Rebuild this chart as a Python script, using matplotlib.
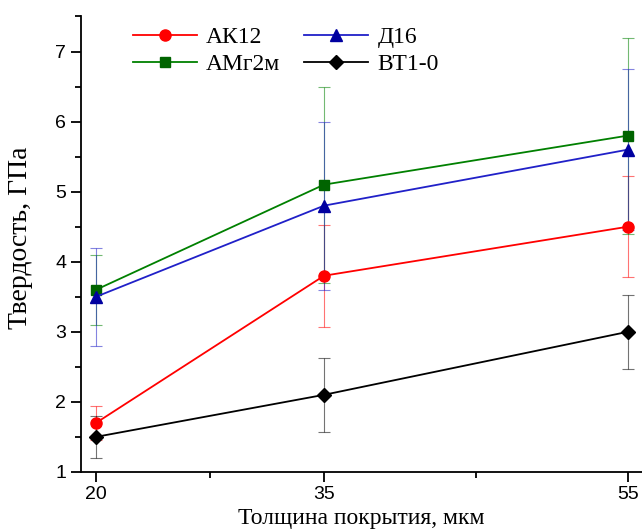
import matplotlib
matplotlib.use("Agg")
import matplotlib.pyplot as plt

# толщина покрытия, мкм
thickness = [20, 35, 55]

# твердость, ГПа и погрешности
ak12 = [1.7, 3.8, 4.5]
ak12_err = [0.24, 0.73, 0.72]
amg2m = [3.6, 5.1, 5.8]
amg2m_err = [0.5, 1.4, 1.4]
d16 = [3.5, 4.8, 5.6]
d16_err = [0.7, 1.2, 1.15]
vt10 = [1.5, 2.1, 3.0]
vt10_err = [0.3, 0.53, 0.53]

series = [
    ("АК12", ak12, ak12_err, "#ff0000", "#ff0000", "o", 8),
    ("АМг2м", amg2m, amg2m_err, "#008000", "#006400", "s", 7),
    ("Д16", d16, d16_err, "#2020c8", "#0000a0", "^", 8),
    ("ВТ1-0", vt10, vt10_err, "#000000", "#000000", "D", 7),
]

fig = plt.figure(figsize=(6.42, 5.32), dpi=100)
ax = fig.add_axes([0.126, 0.113, 0.874, 0.856])

for name, y, err, col, mcol, mk, ms in series:
    ax.errorbar(thickness, y, yerr=err, fmt="none", ecolor=col, elinewidth=0.8,
                capsize=4, capthick=0.8, alpha=0.55, zorder=1)
for name, y, err, col, mcol, mk, ms in series:
    ax.plot(thickness, y, color=col, lw=1.3, marker=mk, ms=ms,
            mfc=mcol, mec=mcol, label=name, zorder=3)

ax.set_xlim(19.0, 55.92)
ax.set_ylim(1, 7.5)
ax.set_xticks([20, 35, 55])
ax.set_xticks([27.5, 45], minor=True)
ax.set_yticks([1, 2, 3, 4, 5, 6, 7])
ax.set_yticks([1.5, 2.5, 3.5, 4.5, 5.5, 6.5, 7.5], minor=True)

for s in ["top", "right"]:
    ax.spines[s].set_visible(False)
for s in ["left", "bottom"]:
    ax.spines[s].set_linewidth(1.3)

ax.tick_params(which="major", direction="out", length=7, width=1.3,
               labelsize=14)
ax.tick_params(which="minor", direction="out", length=4, width=1.3)
for lab in ax.get_xticklabels() + ax.get_yticklabels():
    lab.set_fontfamily("Liberation Sans")

ax.set_xlabel("Толщина покрытия, мкм", fontfamily="Liberation Serif",
              fontsize=17, labelpad=3)
ax.set_ylabel("Твердость, ГПа", fontfamily="Liberation Serif", fontsize=20)
ax.yaxis.set_label_coords(-0.086, 0.514)

leg = ax.legend(ncol=2, loc="upper left", bbox_to_anchor=(0.055, 1.025),
                frameon=False, handlelength=2.7, columnspacing=1.0,
                handletextpad=0.4, labelspacing=0.25,
                prop={"family": "Liberation Serif", "size": 17})

fig.savefig("out.png", dpi=100)
